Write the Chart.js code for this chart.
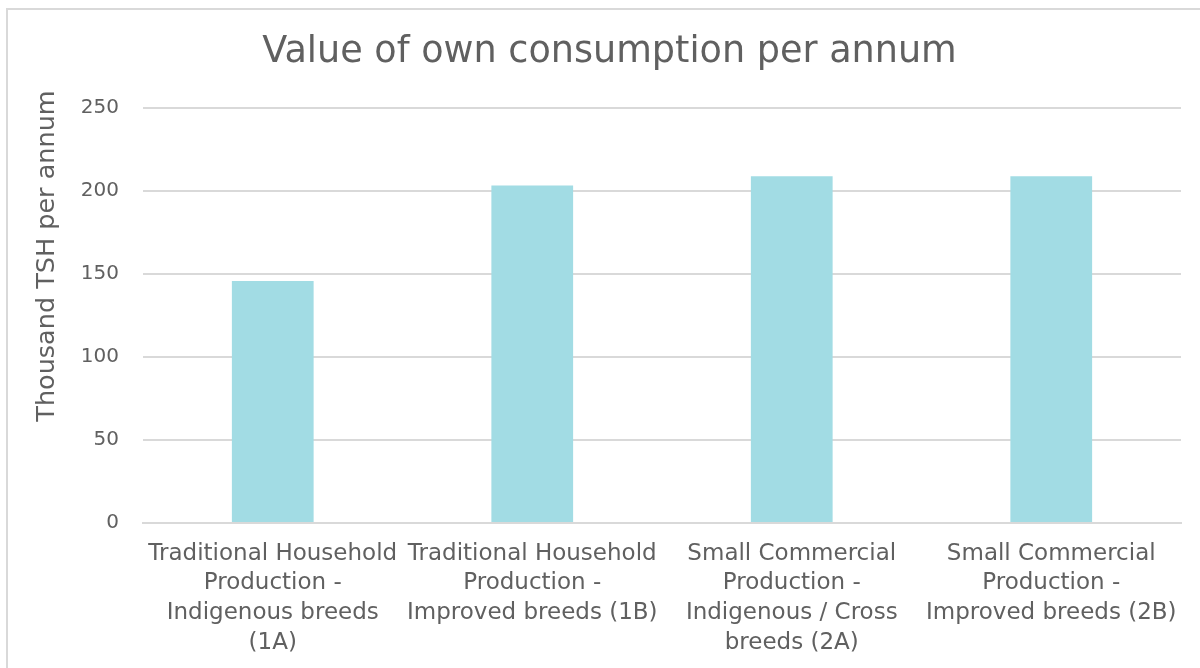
<!DOCTYPE html>
<html>
<head>
<meta charset="utf-8">
<script src="https://cdn.jsdelivr.net/npm/chart.js@4/dist/chart.umd.min.js"></script>
<style>
  html, body { margin: 0; padding: 0; background: #fff; overflow: hidden; }
  #frame {
    position: absolute; left: 6px; top: 8px; width: 1300px; height: 800px;
    border: 2px solid #d9d9d9;
  }
  #wrap { position: absolute; left: 0; top: 0; width: 1200px; height: 668px; }
</style>
</head>
<body>
<div id="frame"></div>
<div id="wrap"><canvas id="myChart"></canvas></div>
<script>
// categories (multi-line labels) and values, thousand TSH per annum
const categories = [
  ['Traditional Household', 'Production -', 'Indigenous breeds', '(1A)'],
  ['Traditional Household', 'Production -', 'Improved breeds (1B)'],
  ['Small Commercial', 'Production -', 'Indigenous / Cross', 'breeds (2A)'],
  ['Small Commercial', 'Production -', 'Improved breeds (2B)']
];
const ownConsumption = [145.8, 203.2, 208.9, 208.9];
const yTicks = [0, 50, 100, 150, 200, 250];
const yTitle = 'Thousand TSH per annum';

const textColor = '#606060';
const gridColor = '#d9d9d9';
const fontFamily = '"DejaVu Sans", sans-serif';

// y axis title sits a bit above the middle of the axis, so draw it by hand
const yTitlePlugin = {
  id: 'yTitle',
  afterDraw(chart) {
    const c = chart.ctx;
    c.save();
    c.translate(54, 256);
    c.rotate(-Math.PI / 2);
    c.font = '25.5px ' + fontFamily;
    c.fillStyle = textColor;
    c.textAlign = 'center';
    c.textBaseline = 'alphabetic';
    c.fillText(yTitle, 0, 0);
    c.restore();
  }
};

const ctx = document.getElementById('myChart').getContext('2d');
new Chart(ctx, {
  type: 'bar',
  data: {
    labels: categories,
    datasets: [{
      label: 'Value of own consumption',
      data: ownConsumption,
      backgroundColor: '#a2dce4',
      borderWidth: 0,
      barPercentage: 0.315,
      categoryPercentage: 1
    }]
  },
  options: {
    responsive: true,
    maintainAspectRatio: false,
    animation: false,
    layout: { padding: { left: 38, right: 19, top: 0, bottom: 0 } },
    plugins: {
      legend: { display: false },
      tooltip: { enabled: false },
      title: {
        display: true,
        text: 'Value of own consumption per annum',
        color: textColor,
        font: { family: fontFamily, size: 36.6, weight: 'normal', lineHeight: 1.2 },
        padding: { top: 31, bottom: 33 }
      }
    },
    scales: {
      x: {
        grid: { display: false, drawTicks: false },
        border: { display: true, color: gridColor, width: 2 },
        ticks: {
          color: textColor,
          font: { family: fontFamily, size: 23, lineHeight: 1.29 },
          padding: 16,
          maxRotation: 0,
          autoSkip: false
        },
        afterFit: (scale) => { scale.height = 145; }
      },
      y: {
        min: 0,
        max: 250,
        afterBuildTicks: (scale) => { scale.ticks = yTicks.map(v => ({ value: v })); },
        grid: { color: gridColor, lineWidth: 2, drawTicks: false },
        border: { display: false },
        ticks: {
          color: textColor,
          font: { family: fontFamily, size: 20 },
          padding: 24
        },
        afterFit: (scale) => { scale.width = 105; }
      }
    }
  },
  plugins: [yTitlePlugin]
});
</script>
</body>
</html>
